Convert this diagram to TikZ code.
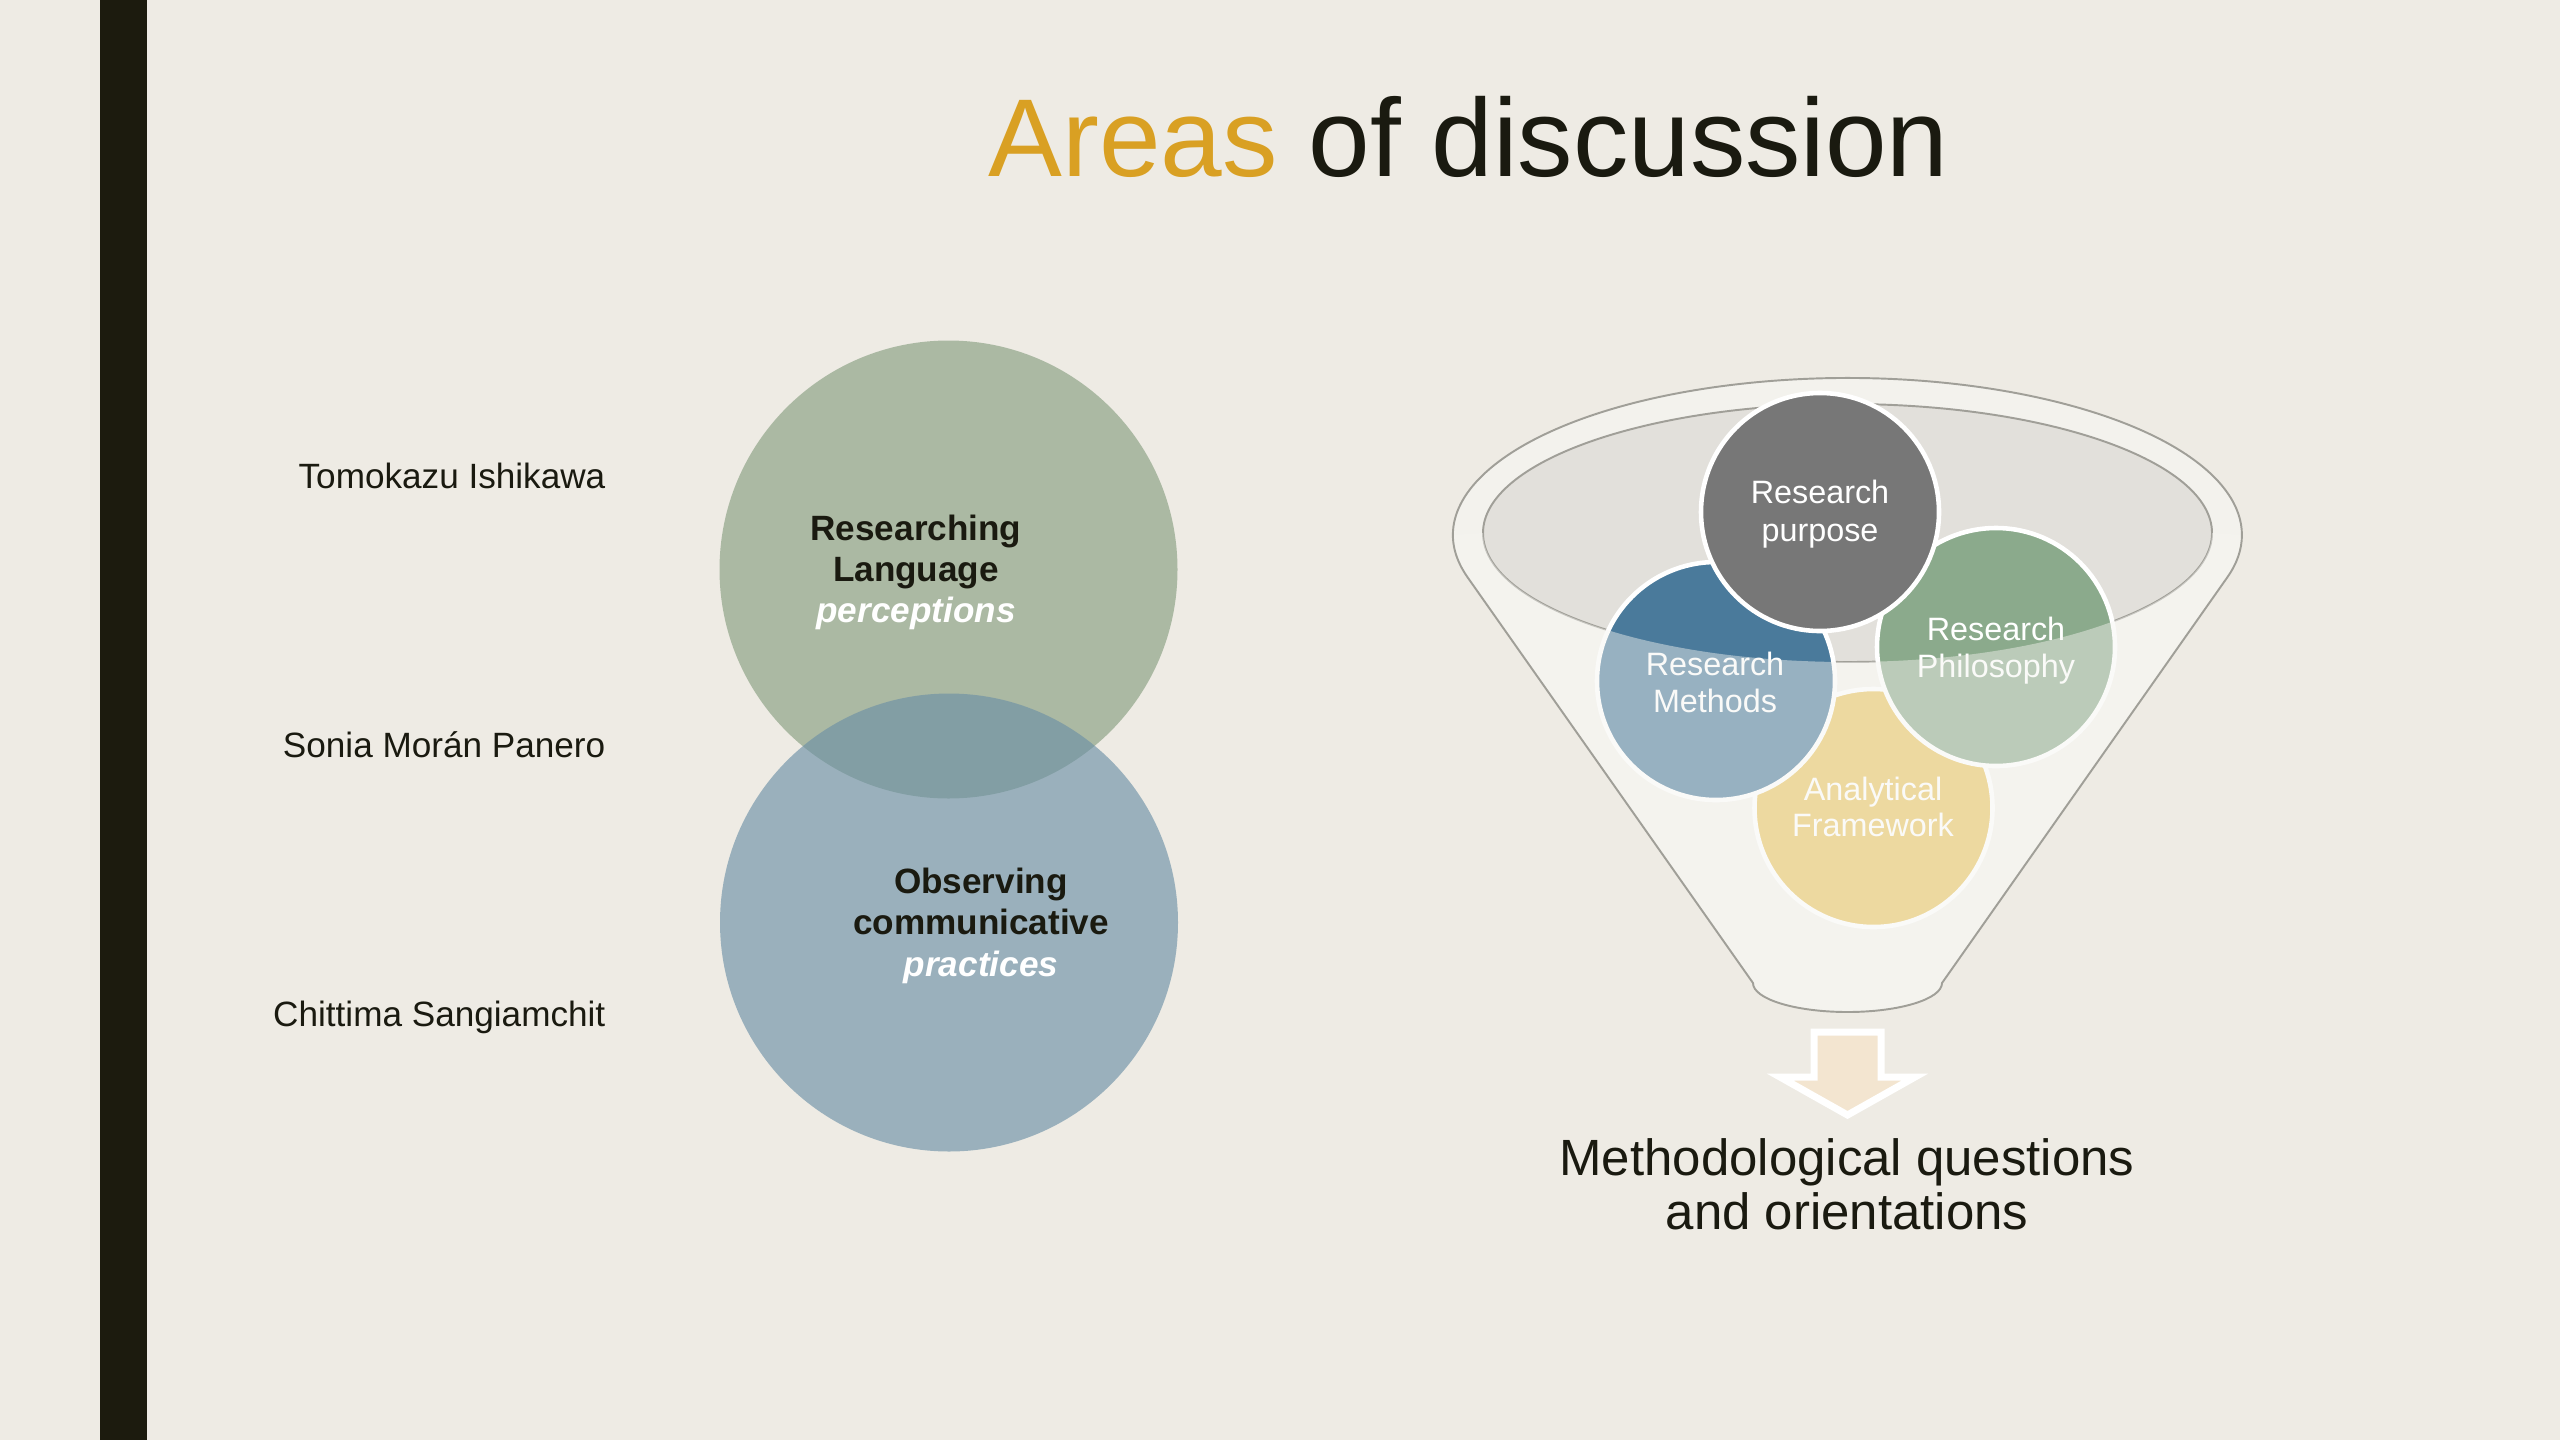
\documentclass[tikz,border=0pt]{standalone}
\usepackage{fontspec}
\setmainfont{Liberation Sans}
\definecolor{bg}{RGB}{238,235,228}
\definecolor{barc}{RGB}{28,27,14}
\definecolor{gold}{RGB}{217,160,35}
\definecolor{ink}{RGB}{26,26,16}
\definecolor{sage}{RGB}{171,185,163}
\definecolor{steel}{RGB}{108,144,166}
\definecolor{funfill}{RGB}{243,242,237}
\definecolor{funline}{RGB}{160,159,152}
\definecolor{innerg}{RGB}{226,224,219}
\definecolor{purp}{RGB}{119,119,119}
\definecolor{meth}{RGB}{74,122,155}
\definecolor{phil}{RGB}{139,170,140}
\definecolor{anal}{RGB}{231,195,95}
\definecolor{veil}{RGB}{246,245,241}
\definecolor{arrowfill}{RGB}{243,229,208}
\tikzset{
  namestyle/.style={anchor=base east, inner sep=0pt, text=ink, font=\fontsize{10}{12}\selectfont},
  bigcircle/.style={circle, inner sep=0pt, minimum size=4.58cm},
  leftline/.style={anchor=base, inner sep=0pt, text=ink, font=\fontsize{10}{12}\selectfont\bfseries},
  leftital/.style={anchor=base, inner sep=0pt, text=white, font=\fontsize{10}{12}\selectfont\bfseries\itshape},
  smallcircle/.style={circle, inner sep=0pt, minimum size=2.38cm, draw=white, line width=1.3pt},
  ctext/.style={anchor=base, inner sep=0pt, text=white, font=\fontsize{9.2}{11}\selectfont},
  funnelline/.style={draw=funline, line width=0.55pt},
  bottomtext/.style={anchor=base, inner sep=0pt, text=ink, font=\fontsize{14.5}{17}\selectfont}
}
\begin{document}
\begin{tikzpicture}
\useasboundingbox (0,0) rectangle (25.6,-14.4);
\fill[bg] (0,0) rectangle (25.6,-14.4);
\fill[barc] (1.00,0) rectangle (1.47,-14.4);

% title
\node[anchor=base west, inner sep=0pt, text=ink, font=\fontsize{31.5}{36}\selectfont] (title) at (9.88,-1.76) {\textcolor{gold}{Areas} of discussion};

% names
\node[namestyle] (n1) at (6.06,-4.88) {Tomokazu Ishikawa};
\node[namestyle] (n2) at (6.06,-7.57) {Sonia Morán Panero};
\node[namestyle] (n3) at (6.06,-10.26) {Chittima Sangiamchit};

% left circles
\node[bigcircle, fill=sage] (ctop) at (9.485,-5.695) {};
\node[bigcircle, fill=steel, fill opacity=0.64] (cbot) at (9.49,-9.225) {};

\node[leftline] (t1) at (9.16,-5.40) {Researching};
\node[leftline] (t2) at (9.16,-5.81) {Language};
\node[leftital] (t3) at (9.16,-6.22) {perceptions};

\node[leftline] (b1) at (9.81,-8.93) {Observing};
\node[leftline] (b2) at (9.81,-9.34) {communicative};
\node[leftital] (b3) at (9.81,-9.76) {practices};

% funnel body
\path[fill=funfill] (14.675,-5.772) arc[start angle=195.6, end angle=-15.6, x radius=3.945, y radius=1.57]
  -- (19.42,-9.83) arc[start angle=0, end angle=-180, x radius=0.945, y radius=0.29] -- cycle;
\filldraw[fill=innerg, funnelline] (18.475,-5.33) ellipse[x radius=3.645, y radius=1.29];

% circles in funnel
\node[smallcircle, fill=anal] (anal) at (18.735,-8.08) {};
\node[smallcircle, fill=meth] (meth) at (17.16,-6.81) {};
\node[smallcircle, fill=phil] (phil) at (19.96,-6.47) {};
\node[smallcircle, fill=purp] (purp) at (18.20,-5.12) {};

\node[ctext] (p1) at (18.20,-5.03) {Research};
\node[ctext] (p2) at (18.20,-5.41) {purpose};
\node[ctext] (m1) at (17.15,-6.75) {Research};
\node[ctext] (m2) at (17.15,-7.12) {Methods};
\node[ctext] (h1) at (19.96,-6.40) {Research};
\node[ctext] (h2) at (19.96,-6.77) {Philosophy};
\node[ctext] (a1) at (18.73,-8.00) {Analytical};
\node[ctext] (a2) at (18.73,-8.36) {Framework};

% front veil of the funnel
\fill[veil, opacity=0.45] (14.83,-5.33) arc[start angle=180, end angle=360, x radius=3.645, y radius=1.29]
  -- (22.42,-5.35) arc[start angle=0, end angle=-15.6, x radius=3.945, y radius=1.57]
  -- (19.42,-9.83) arc[start angle=0, end angle=-180, x radius=0.945, y radius=0.29]
  -- (14.675,-5.772) arc[start angle=195.6, end angle=180, x radius=3.945, y radius=1.57] -- cycle;

\path[funnelline] (14.675,-5.772) arc[start angle=195.6, end angle=-15.6, x radius=3.945, y radius=1.57]
  -- (19.42,-9.83) arc[start angle=0, end angle=-180, x radius=0.945, y radius=0.29] -- cycle;

% arrow
\filldraw[fill=arrowfill, draw=white, line width=2pt, line join=miter]
  (18.14,-10.32) -- (18.81,-10.32) -- (18.81,-10.77) -- (19.15,-10.77) -- (18.475,-11.15)
  -- (17.80,-10.77) -- (18.14,-10.77) -- cycle;

\node[bottomtext] (q1) at (18.47,-11.75) {Methodological questions};
\node[bottomtext] (q2) at (18.47,-12.29) {and orientations};
\end{tikzpicture}
\end{document}
